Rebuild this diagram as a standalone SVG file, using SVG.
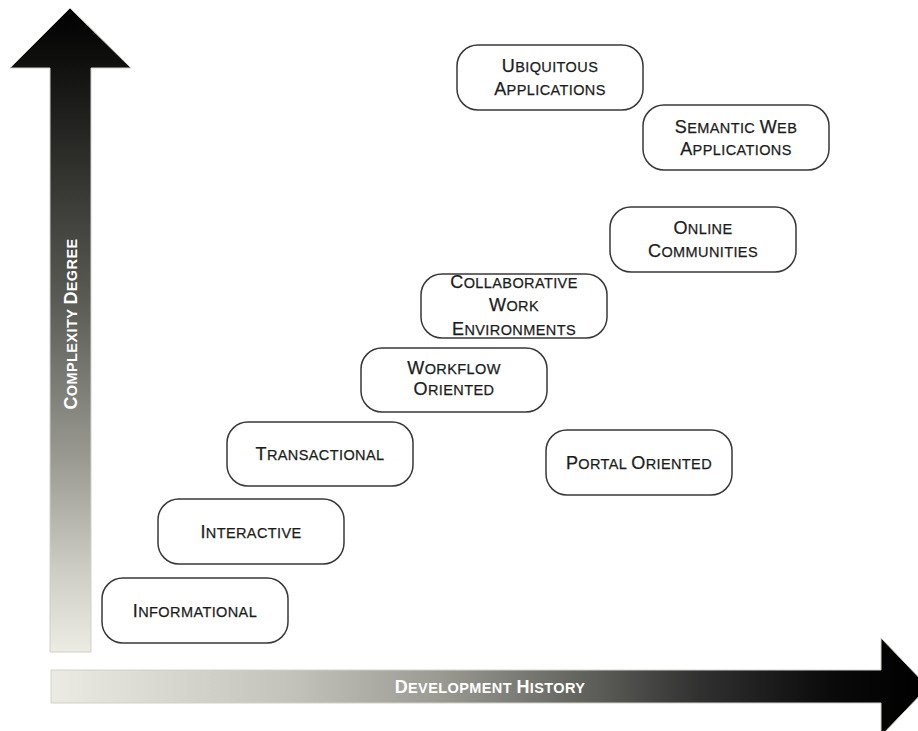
<svg xmlns="http://www.w3.org/2000/svg" width="918" height="731" viewBox="0 0 918 731">
<defs>
<linearGradient id="gv" gradientUnits="userSpaceOnUse" x1="0" y1="8" x2="0" y2="652">
<stop offset="0" stop-color="#000"/>
<stop offset="0.15" stop-color="#1c1c1a"/>
<stop offset="0.45" stop-color="#5a5a55"/>
<stop offset="0.7" stop-color="#9a9a93"/>
<stop offset="0.88" stop-color="#cfcfc7"/>
<stop offset="1" stop-color="#ececE4"/>
</linearGradient>
<linearGradient id="gh" gradientUnits="userSpaceOnUse" x1="51" y1="0" x2="918" y2="0">
<stop offset="0" stop-color="#ebebe3"/>
<stop offset="0.28" stop-color="#c2c2ba"/>
<stop offset="0.45" stop-color="#9a9a93"/>
<stop offset="0.6" stop-color="#676762"/>
<stop offset="0.75" stop-color="#303030"/>
<stop offset="0.9" stop-color="#0a0a0a"/>
<stop offset="1" stop-color="#000"/>
</linearGradient>
<style>
.box{fill:#fff;stroke:#383838;stroke-width:1.5}
.t{font-family:"Liberation Sans",Arial,sans-serif;font-size:14.5px;fill:#1c1c1c;stroke:#1c1c1c;stroke-width:0.25;letter-spacing:0.4px}
.t .b{font-size:18px}
.ax{font-family:"Liberation Sans",Arial,sans-serif;font-weight:bold;font-size:14.5px;fill:#fff;letter-spacing:0.4px}
.ax .b{font-size:18px}
.arrow{stroke:#d0d0c8;stroke-width:1}
</style>
</defs>
<rect width="918" height="731" fill="#fff"/>
<g id="axes">
<polygon class="arrow" fill="url(#gv)" points="70,8 131,68 91,68 91,652 50,652 50,68 10,68"/>
<polygon class="arrow" fill="url(#gh)" points="51,670 881,670 881,638 928,687 881,736 881,703 51,703"/>
<text class="ax" x="490" y="693" text-anchor="middle"><tspan class="b">D</tspan>EVELOPMENT <tspan class="b">H</tspan>ISTORY</text>
<text class="ax" x="0" y="0" text-anchor="middle" transform="translate(77,324) rotate(-90)"><tspan class="b">C</tspan>OMPLEXITY <tspan class="b">D</tspan>EGREE</text>
</g>
<g id="connectors"></g>
<g id="ubiquitous">
<rect class="box" x="457" y="45" width="186" height="65" rx="21"/>
<text class="t" x="550" y="72" text-anchor="middle"><tspan class="b">U</tspan>BIQUITOUS</text>
<text class="t" x="550" y="95" text-anchor="middle"><tspan class="b">A</tspan>PPLICATIONS</text>
</g>
<g id="semantic">
<rect class="box" x="643" y="105" width="186" height="65" rx="21"/>
<text class="t" x="736" y="133" text-anchor="middle"><tspan class="b">S</tspan>EMANTIC <tspan class="b">W</tspan>EB</text>
<text class="t" x="736" y="155" text-anchor="middle"><tspan class="b">A</tspan>PPLICATIONS</text>
</g>
<g id="online">
<rect class="box" x="610" y="207" width="186" height="65" rx="21"/>
<text class="t" x="703" y="234" text-anchor="middle"><tspan class="b">O</tspan>NLINE</text>
<text class="t" x="703" y="257" text-anchor="middle"><tspan class="b">C</tspan>OMMUNITIES</text>
</g>
<g id="collaborative">
<rect class="box" x="421" y="274" width="186" height="64" rx="21"/>
<text class="t" x="514" y="288" text-anchor="middle"><tspan class="b">C</tspan>OLLABORATIVE</text>
<text class="t" x="514" y="311" text-anchor="middle"><tspan class="b">W</tspan>ORK</text>
<text class="t" x="514" y="335" text-anchor="middle"><tspan class="b">E</tspan>NVIRONMENTS</text>
</g>
<g id="workflow">
<rect class="box" x="361" y="348" width="186" height="64" rx="21"/>
<text class="t" x="454" y="374" text-anchor="middle"><tspan class="b">W</tspan>ORKFLOW</text>
<text class="t" x="454" y="395" text-anchor="middle"><tspan class="b">O</tspan>RIENTED</text>
</g>
<g id="transactional">
<rect class="box" x="227" y="422" width="186" height="64" rx="21"/>
<text class="t" x="320" y="460" text-anchor="middle"><tspan class="b">T</tspan>RANSACTIONAL</text>
</g>
<g id="portal">
<rect class="box" x="546" y="430" width="186" height="65" rx="21"/>
<text class="t" x="639" y="469" text-anchor="middle"><tspan class="b">P</tspan>ORTAL <tspan class="b">O</tspan>RIENTED</text>
</g>
<g id="interactive">
<rect class="box" x="158" y="499" width="186" height="65" rx="21"/>
<text class="t" x="251" y="538" text-anchor="middle"><tspan class="b">I</tspan>NTERACTIVE</text>
</g>
<g id="informational">
<rect class="box" x="102" y="578" width="186" height="65" rx="21"/>
<text class="t" x="195" y="617" text-anchor="middle"><tspan class="b">I</tspan>NFORMATIONAL</text>
</g>
</svg>
